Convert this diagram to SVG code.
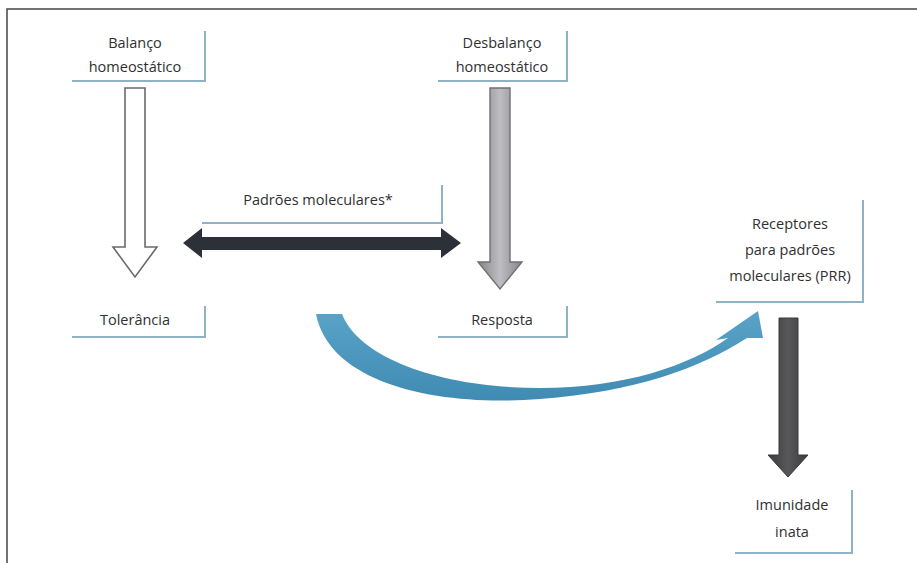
<svg xmlns="http://www.w3.org/2000/svg" width="917" height="563" viewBox="0 0 917 563">
  <defs>
    <linearGradient id="grayShaft" x1="0" y1="0" x2="1" y2="0">
      <stop offset="0" stop-color="#85858a"/>
      <stop offset="0.5" stop-color="#bdbdc2"/>
      <stop offset="1" stop-color="#85858a"/>
    </linearGradient>
    <linearGradient id="darkShaft" x1="0" y1="0" x2="1" y2="0">
      <stop offset="0" stop-color="#3a3a3c"/>
      <stop offset="0.5" stop-color="#58585a"/>
      <stop offset="1" stop-color="#3a3a3c"/>
    </linearGradient>
    <linearGradient id="blueBand" x1="0" y1="0" x2="0" y2="1">
      <stop offset="0" stop-color="#5aa3c8"/>
      <stop offset="1" stop-color="#3f8bb3"/>
    </linearGradient>
  </defs>
  <style>
    .label { font-family: "Open Sans", "Noto Sans", "DejaVu Sans", sans-serif; font-size: 14.5px; fill: #303030; text-anchor: middle; }
    .frame { fill: none; stroke: #8fb2c5; stroke-width: 2; }
  </style>

  <!-- page background and border -->
  <rect x="0" y="0" width="917" height="563" fill="#ffffff"/>
  <path d="M7 563 V9 H917" fill="none" stroke="#444444" stroke-width="1.5"/>

  <!-- nodes -->
  <g id="balanco">
    <path class="frame" d="M72 81 H205 V31"/>
    <text class="label" x="135" y="48">Balanço</text>
    <text class="label" x="135" y="72">homeostático</text>
  </g>
  <g id="desbalanco">
    <path class="frame" d="M438 81 H567 V31"/>
    <text class="label" x="502" y="48">Desbalanço</text>
    <text class="label" x="502" y="72">homeostático</text>
  </g>
  <g id="padroes">
    <path class="frame" d="M202 223 H442 V185"/>
    <text class="label" x="318" y="205">Padrões moleculares*</text>
  </g>
  <g id="tolerancia">
    <path class="frame" d="M72 337 H205 V306"/>
    <text class="label" x="135" y="325">Tolerância</text>
  </g>
  <g id="resposta">
    <path class="frame" d="M438 337 H567 V306"/>
    <text class="label" x="502" y="325">Resposta</text>
  </g>
  <g id="prr">
    <path class="frame" d="M716 302 H863 V200"/>
    <text class="label" x="790" y="229">Receptores</text>
    <text class="label" x="790" y="255">para padrões</text>
    <text class="label" x="790" y="281">moleculares (PRR)</text>
  </g>
  <g id="imunidade">
    <path class="frame" d="M735 553 H852 V490"/>
    <text class="label" x="792" y="510">Imunidade</text>
    <text class="label" x="792" y="537">inata</text>
  </g>

  <!-- connectors -->
  <g id="connectors">
    <!-- balance -> tolerance (open arrow) -->
    <path d="M125 88 H145 V247 H157 L135 277 L113 247 H125 Z" fill="#ffffff" stroke="#6a6a6a" stroke-width="1.6" stroke-linejoin="miter"/>
    <!-- imbalance -> response (grey arrow) -->
    <path d="M490 88 H510 V262 H522 L500 289 L478 262 H490 Z" fill="url(#grayShaft)" stroke="#707074" stroke-width="1.4"/>
    <!-- molecular patterns (double arrow) -->
    <path d="M183 243 L202 228 V237 H441 V228 L461 243 L441 258 V250 H202 V258 Z" fill="#2c3038"/>
    <!-- curved path to receptors -->
    <path d="M316 314 C330 385 440 407 540 399 C635 392 700 368 747 338 L763 338 L758 311 L716 340 L728 338 C690 365 625 388 540 388 C445 388 360 360 342 314 Z" fill="url(#blueBand)"/>
    <!-- receptors -> innate immunity -->
    <path d="M779 318 H798 V455 H808 L788 477 L768 455 H779 Z" fill="url(#darkShaft)" stroke="#3a3a3c" stroke-width="1"/>
  </g>
</svg>
